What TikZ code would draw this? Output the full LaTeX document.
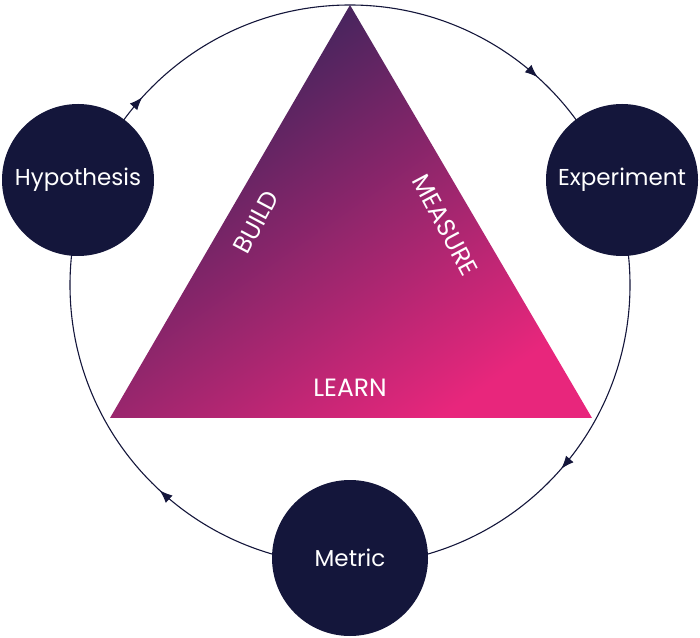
\documentclass[tikz,border=0pt]{standalone}
\usepackage{fontspec}
\setmainfont{Poppins}
\usepackage{tikz}
\usetikzlibrary{positioning,decorations.markings,arrows.meta}
\definecolor{navy}{HTML}{14163B}
\definecolor{topviolet}{HTML}{33255A}
\definecolor{hotpink}{HTML}{E8267C}

\begin{document}
\begin{tikzpicture}[x=1pt,y=1pt]
%% styles
\tikzstyle{stage}=[circle,fill=navy,minimum size=152pt,inner sep=0pt,text=white,font=\fontsize{23}{26}\selectfont]
\tikzstyle{phase}=[text=white,inner sep=1pt,font=\fontsize{25}{28}\selectfont]
\tikzstyle{loop}=[draw=navy,line width=1.1pt,postaction={decorate},decoration={markings,
  mark=at position 0.114 with {\arrow{Latex[length=13pt,width=10pt]}},
  mark=at position 0.369 with {\arrow{Latex[length=13pt,width=10pt]}},
  mark=at position 0.617 with {\arrow{Latex[length=13pt,width=10pt]}},
  mark=at position 0.867 with {\arrow{Latex[length=13pt,width=10pt]}}}]
\useasboundingbox (0,0) rectangle (700,637);
%%%%%%%%%%%%%%%%%%%%%%%%%%%%%%%%%%%%%%%%%%%%%%%%%%%%%%%%%%%%%%
%cycle
\coordinate (centre) at (350,352);
\draw[loop] (centre) ++(0:280) arc[start angle=0,end angle=-360,radius=280];
%%%%%%%%%%%%%%%%%%%%%%%%%%%%%%%%%%%%%%%%%%%%%%%%%%%%%%%%%%%%%%
%triangle
\coordinate (apex) at (350,632);
\coordinate (left) at (110,219);
\coordinate (right) at (592,219);
\shade[top color=topviolet,bottom color=hotpink,shading angle=35] (apex) -- (right) -- (left) -- cycle;
\node[phase,rotate=62] (build) at (256,415) {BUILD};
\node[phase,rotate=-62] (measure) at (445,412) {MEASURE};
\node[phase] (learn) at (350,249) {LEARN};
%%%%%%%%%%%%%%%%%%%%%%%%%%%%%%%%%%%%%%%%%%%%%%%%%%%%%%%%%%%%%%
%stages
\node[stage] (hypothesis) at (78,457) {Hypothesis};
\node[stage] (experiment) at (622,457) {Experiment};
\node[stage,minimum size=156pt] (metric) at (350,79) {Metric};
\end{tikzpicture}
\end{document}
